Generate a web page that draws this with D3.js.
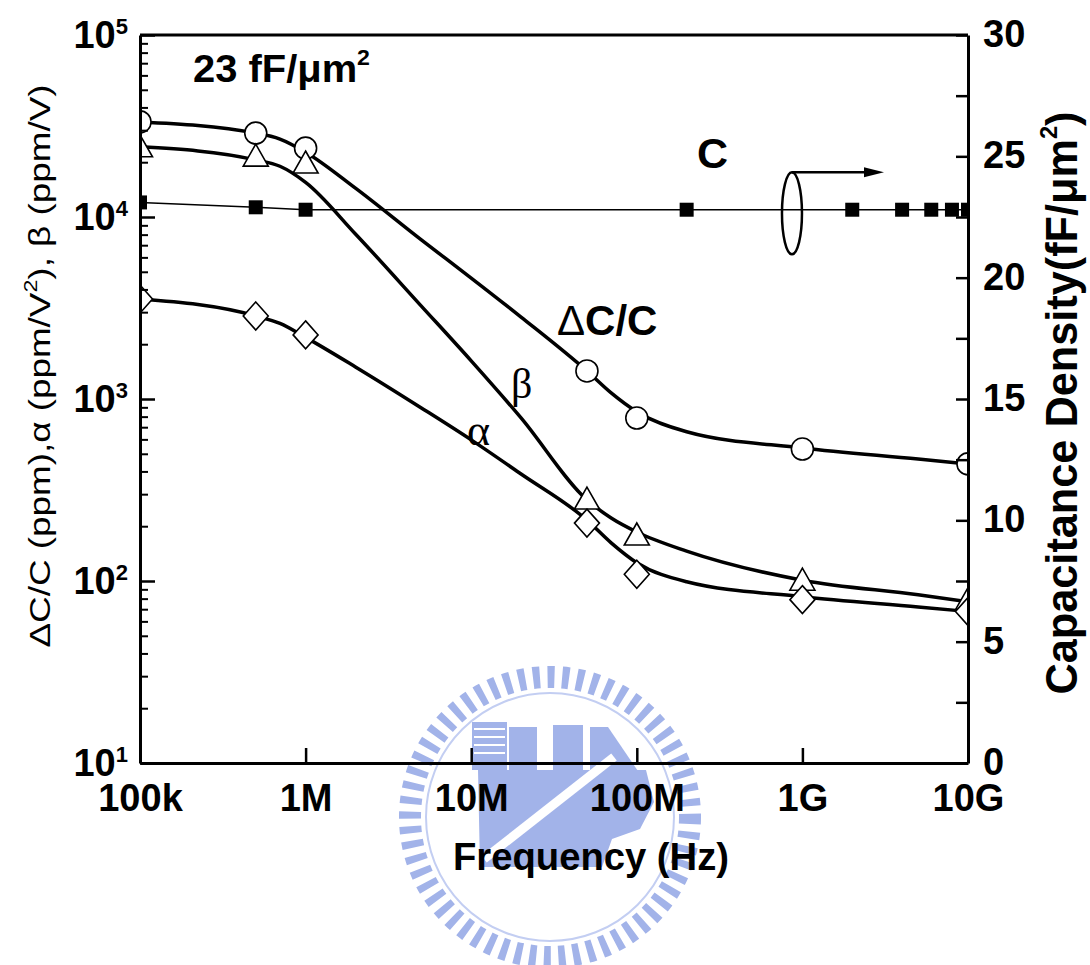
<!DOCTYPE html>
<html>
<head>
<meta charset="utf-8">
<script src="https://cdn.jsdelivr.net/npm/d3@7"></script>
<style>
  body { margin: 0; background: #fff; }
  text { font-family: "Liberation Sans", Arial, sans-serif; fill: #000; }
</style>
</head>
<body>
<div id="chart"></div>
<script>
// ---- data ----
// fitted curves (solid lines)
const freqFit = [1e5, 5e5, 7e5, 1e6, 2e6, 5e6, 1e7, 2e7, 5e7, 7e7, 1e8, 2e8, 1e9, 5e9, 1e10];
const dccFit = [33300, 28900, 26800, 22700, 14400, 7480, 4620, 2820, 1426, 1080, 851, 661, 538, 468, 440];
const betaFit = [24300, 20600, 19000, 15500, 8070, 3240, 1620, 787, 279, 222, 186, 146, 101, 84, 77];
const alphaFit = [3540, 2860, 2600, 2180, 1500, 893, 596, 387, 216, 162, 126, 99, 82, 72, 68];

// measured points (open markers)
const freqMk = [1e5, 5e5, 1e6, 5e7, 1e8, 1e9, 1e10];
const dccMk = [33300, 28900, 23900, 1426, 786, 531, 440];
const betaMk = [24300, 21600, 19800, 282, 179, 101, 79];
const alphaMk = [3540, 2860, 2250, 208, 109, 79, 68];

// capacitance density (right axis)
const freqC = [1e5, 5e5, 1e6, 2e8, 2e9, 4e9, 6e9, 8e9, 1e10];
const capC = [23.1, 22.9, 22.8, 22.8, 22.8, 22.8, 22.8, 22.8, 22.8];

// ticks
const xTicks = [1e5, 1e6, 1e7, 1e8, 1e9, 1e10];
const xTickLabels = ['100k', '1M', '10M', '100M', '1G', '10G'];
const yTicks = [1e1, 1e2, 1e3, 1e4, 1e5];
const yMinorTicks = [1e1, 1e2, 1e3, 1e4].flatMap((d) => [2, 3, 4, 5, 6, 7, 8, 9].map((m) => d * m));
const yRightTicks = [0, 2.5, 5, 7.5, 10, 12.5, 15, 17.5, 20, 22.5, 25, 27.5, 30];

function chartInit() {
  const W = 1090;
  const H = 965;
  const margin = { top: 35, right: 122, bottom: 202, left: 140 };
  const w = W - margin.left - margin.right;
  const h = H - margin.top - margin.bottom;

  const svg = d3.select('#chart').append('svg')
    .attr('width', W)
    .attr('height', H);

  // watermark (school emblem, faint blue)
  const wm = svg.append('g').attr('transform', 'translate(550,817)');
  const blue = '#a2b3e9';
  wm.append('circle').attr('r', 140).attr('fill', 'none')
    .attr('stroke', blue).attr('stroke-width', 22)
    .attr('stroke-dasharray', '7 7.6');
  wm.append('circle').attr('r', 124).attr('fill', 'none')
    .attr('stroke', '#c3cef2').attr('stroke-width', 2);
  wm.append('rect').attr('x', -78).attr('y', -95).attr('width', 35).attr('height', 48).attr('fill', blue);
  wm.append('rect').attr('x', -41).attr('y', -90).attr('width', 28).attr('height', 48).attr('fill', blue);
  wm.append('rect').attr('x', 3).attr('y', -92).attr('width', 30).attr('height', 50).attr('fill', blue);
  wm.append('path').attr('fill', blue)
    .attr('d', 'M40,-90 L58,-90 L92,-40 L92,-20 L40,-20 Z');
  wm.append('path').attr('fill', blue)
    .attr('d', 'M-72,-47 L96,-47 L104,-15 L90,12 L62,22 L52,50 L-70,50 Z');
  wm.append('path').attr('stroke', '#fff').attr('stroke-width', 9)
    .attr('d', 'M-66,42 L64,-60');
  [-88, -80, -72, -64].forEach((yy) => {
    wm.append('line').attr('x1', -76).attr('x2', -45).attr('y1', yy).attr('y2', yy)
      .attr('stroke', '#fff').attr('stroke-width', 2);
  });

  const g = svg.append('g')
    .attr('transform', `translate(${margin.left}, ${margin.top})`);

  // scales
  const x = d3.scaleLog().domain([1e5, 1e10]).range([0, w]);
  const yL = d3.scaleLog().domain([10, 1e5]).range([h, 0]);
  const yR = d3.scaleLinear().domain([0, 30]).range([h, 0]);

  // clip to plot area
  g.append('defs').append('clipPath').attr('id', 'clip')
    .append('rect').attr('width', w).attr('height', h);
  const plot = g.append('g').attr('clip-path', 'url(#clip)');

  // C line + squares
  const cData = freqC.map((f, i) => ({ f, v: capC[i] }));
  plot.append('path').datum(cData)
    .attr('fill', 'none').attr('stroke', '#000').attr('stroke-width', 1.5)
    .attr('d', d3.line().x((d) => x(d.f)).y((d) => yR(d.v)));
  plot.selectAll('.sq').data(cData).join('rect')
    .attr('class', 'sq')
    .attr('x', (d) => x(d.f) - 7).attr('y', (d) => yR(d.v) - 7)
    .attr('width', 14).attr('height', 14).attr('fill', '#000');

  // fitted curves
  const fitLine = d3.line()
    .x((d) => x(d.f))
    .y((d) => yL(d.v))
    .curve(d3.curveMonotoneX);
  [dccFit, betaFit, alphaFit].forEach((arr) => {
    plot.append('path')
      .datum(freqFit.map((f, i) => ({ f, v: arr[i] })))
      .attr('fill', 'none').attr('stroke', '#000').attr('stroke-width', 3.5)
      .attr('stroke-linejoin', 'round')
      .attr('d', fitLine);
  });

  // markers
  const mk = (arr) => freqMk.map((f, i) => ({ f, v: arr[i] }));
  plot.selectAll('.circ').data(mk(dccMk)).join('circle')
    .attr('class', 'circ')
    .attr('cx', (d) => x(d.f)).attr('cy', (d) => yL(d.v)).attr('r', 11)
    .attr('fill', '#fff').attr('stroke', '#000').attr('stroke-width', 1.6);
  plot.selectAll('.tri').data(mk(betaMk)).join('path')
    .attr('class', 'tri')
    .attr('transform', (d) => `translate(${x(d.f)},${yL(d.v)})`)
    .attr('d', 'M0,-12 L12.5,10 L-12.5,10 Z')
    .attr('fill', '#fff').attr('stroke', '#000').attr('stroke-width', 1.6);
  plot.selectAll('.dia').data(mk(alphaMk)).join('path')
    .attr('class', 'dia')
    .attr('transform', (d) => `translate(${x(d.f)},${yL(d.v)})`)
    .attr('d', 'M0,-14 L12.5,0 L0,14 L-12.5,0 Z')
    .attr('fill', '#fff').attr('stroke', '#000').attr('stroke-width', 1.6);

  // axes
  const xAxis = d3.axisBottom(x).tickValues(xTicks)
    .tickFormat((d, i) => xTickLabels[i])
    .tickSize(-15).tickSizeOuter(0).tickPadding(21);
  const gx = g.append('g').attr('class', 'x axis')
    .attr('transform', `translate(0, ${h})`)
    .call(xAxis);

  const gyMinor = g.append('g').attr('class', 'y minor')
    .call(d3.axisLeft(yL).tickValues(yMinorTicks).tickFormat(() => '')
      .tickSize(-8).tickSizeOuter(0));
  gyMinor.select('.domain').remove();

  const gy = g.append('g').attr('class', 'y axis')
    .call(d3.axisLeft(yL).tickValues(yTicks).tickFormat(() => '')
      .tickSize(-15).tickSizeOuter(0).tickPadding(12));
  gy.selectAll('.tick text').each(function (d) {
    const t = d3.select(this);
    t.append('tspan').text('10');
    t.append('tspan').attr('font-size', 22).attr('dy', '-0.62em')
      .text(Math.round(Math.log10(d)));
  });

  const gyR = g.append('g').attr('class', 'y2 axis')
    .attr('transform', `translate(${w}, 0)`)
    .call(d3.axisRight(yR).tickValues(yRightTicks)
      .tickFormat((d) => (d % 5 === 0 ? d : ''))
      .tickSize(-12).tickSizeOuter(0).tickPadding(15));

  // top frame
  g.append('line').attr('x1', 0).attr('x2', w).attr('y1', 0).attr('y2', 0)
    .attr('stroke', '#000').attr('stroke-width', 3);

  [gx, gy, gyR, gyMinor].forEach((ax) => {
    ax.attr('font-family', null).attr('font-size', null);
    ax.selectAll('.domain').attr('stroke-width', 3);
    ax.selectAll('.tick line').attr('stroke-width', 2.5);
    ax.selectAll('.tick text')
      .attr('font-size', 38).attr('font-weight', 'bold').style('fill', '#000');
  });
  gyMinor.selectAll('.tick line').attr('stroke-width', 2);
  gyR.selectAll('.tick text').attr('dy', '0.3em');

  // axis titles
  svg.append('text')
    .attr('x', 591).attr('y', 870)
    .attr('text-anchor', 'middle')
    .attr('font-size', 38).attr('font-weight', 'bold')
    .attr('textLength', 276).attr('lengthAdjust', 'spacingAndGlyphs')
    .text('Frequency (Hz)');

  const lt = svg.append('text')
    .attr('transform', 'translate(50,366) rotate(-90)')
    .attr('text-anchor', 'middle')
    .attr('font-size', 30)
    .attr('textLength', 563).attr('lengthAdjust', 'spacingAndGlyphs');
  lt.append('tspan').text('ΔC/C (ppm),α (ppm/V');
  lt.append('tspan').attr('font-size', 19).attr('dy', -13).text('2');
  lt.append('tspan').attr('dy', 13).text('), β (ppm/V)');

  const rt = svg.append('text')
    .attr('transform', 'translate(1077,403) rotate(-90)')
    .attr('text-anchor', 'middle')
    .attr('font-size', 44).attr('font-weight', 'bold')
    .attr('textLength', 583).attr('lengthAdjust', 'spacingAndGlyphs');
  rt.append('tspan').text('Capacitance Density(fF/μm');
  rt.append('tspan').attr('font-size', 24).attr('dy', -20).text('2');
  rt.append('tspan').attr('dy', 20).text(')');

  // annotations
  const ann = svg.append('text')
    .attr('x', 193).attr('y', 82)
    .attr('font-size', 38).attr('font-weight', 'bold')
    .attr('textLength', 177).attr('lengthAdjust', 'spacingAndGlyphs');
  ann.append('tspan').text('23 fF/μm');
  ann.append('tspan').attr('font-size', 22).attr('dy', -17).text('2');

  svg.append('text').attr('x', 697).attr('y', 168)
    .attr('font-size', 43).attr('font-weight', 'bold').text('C');

  const dl = svg.append('text').attr('x', 557).attr('y', 335)
    .attr('font-size', 42).attr('font-weight', 'bold');
  dl.append('tspan').attr('font-weight', 'normal').text('Δ');
  dl.append('tspan').text('C/C');

  svg.append('text').attr('x', 511).attr('y', 398)
    .style('font-family', '"Liberation Serif", "DejaVu Serif", serif')
    .attr('font-size', 42).text('β');
  svg.append('text').attr('x', 467).attr('y', 445)
    .style('font-family', '"Liberation Serif", "DejaVu Serif", serif')
    .attr('font-size', 44).text('α');

  // ellipse + arrow pointing to right axis
  const ex = x(8.65e8) + margin.left;
  const ey = yR(22.65) + margin.top;
  svg.append('ellipse').attr('cx', ex).attr('cy', ey).attr('rx', 10).attr('ry', 41)
    .attr('fill', 'none').attr('stroke', '#000').attr('stroke-width', 2.5);
  svg.append('line').attr('x1', ex).attr('x2', ex + 76)
    .attr('y1', ey - 41).attr('y2', ey - 41)
    .attr('stroke', '#000').attr('stroke-width', 2.5);
  svg.append('path')
    .attr('d', `M${ex + 92},${ey - 41} L${ex + 72},${ey - 46} L${ex + 72},${ey - 36} Z`)
    .attr('fill', '#000');
}

window.onload = chartInit;
</script>
</body>
</html>
